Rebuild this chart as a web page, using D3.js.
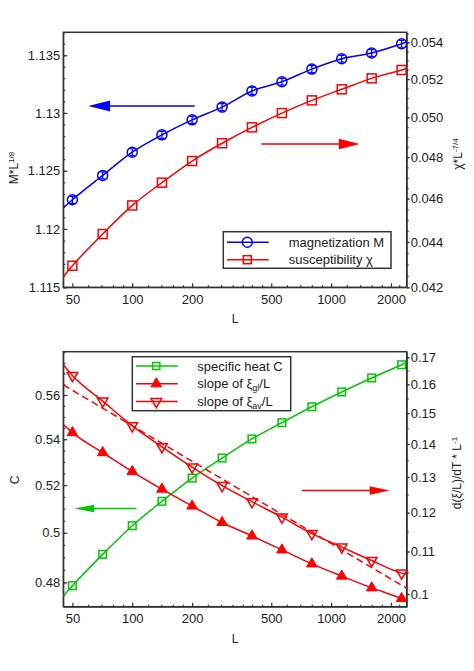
<!DOCTYPE html>
<html>
<head>
<meta charset="utf-8">
<script src="https://cdn.jsdelivr.net/npm/d3@7"></script>
<style>
  body { margin: 0; background: #fff; }
  svg { display: block; font-family: 'Liberation Sans', Arial, sans-serif; }
  .axis text { font-size: 13px; fill: #222; }
  .axis path, .axis line { stroke: #333; }
  .title { font-size: 12px; fill: #222; }
  .legend text { font-size: 13px; fill: #222; }
</style>
</head>
<body>
<script>
// system sizes
const L = [50, 71, 100, 141, 200, 283, 400, 566, 800, 1131, 1600, 2263]
const lEnds = [45, 2400]

// top panel
const magnetization = [1.1225, 1.1246, 1.1266, 1.1281, 1.1294, 1.1305, 1.1319, 1.1327, 1.1338, 1.1347, 1.1352, 1.1360]
const magErr = [0.0003, 0.0003, 0.0003, 0.0003, 0.0003, 0.0003, 0.0003, 0.0003, 0.0003, 0.0003, 0.0003, 0.0003]
const magEnds = [1.1218, 1.13615]
const susceptibility = [0.04294, 0.04436, 0.04568, 0.04676, 0.04781, 0.04869, 0.04949, 0.05022, 0.05088, 0.05146, 0.05204, 0.05249]
const susEnds = [0.04246, 0.05257]

// bottom panel
const specificHeat = [0.4787, 0.4912, 0.5029, 0.5131, 0.5230, 0.5317, 0.5401, 0.5474, 0.5546, 0.5614, 0.5679, 0.5741]
const heatEnds = [0.4747, 0.5752]
const slopeGl = [0.1436, 0.1373, 0.1316, 0.1265, 0.1218, 0.1174, 0.1139, 0.1104, 0.1070, 0.1041, 0.1014, 0.0990]
const glEnds = [0.1462, 0.0985]
const slopeAv = [0.1632, 0.1541, 0.1458, 0.1391, 0.1329, 0.1275, 0.1230, 0.1188, 0.1145, 0.1111, 0.1078, 0.1048]
const avEnds = [0.1672, 0.1045]
const avDashed = [0.1598, 0.1013]

// ticks
const lTicks = [50, 100, 200, 500, 1000, 2000]
const lMinor = [60, 70, 80, 90, 120, 140, 160, 180, 240, 280, 320, 360, 400, 450, 600, 700, 800, 900, 1200, 1400, 1600, 1800, 2200]
const magTicks = [1.115, 1.12, 1.125, 1.13, 1.135]
const susTicks = [0.042, 0.044, 0.046, 0.048, 0.050, 0.052, 0.054]
const heatTicks = [0.48, 0.5, 0.52, 0.54, 0.56]
const slopeTicks = [0.1, 0.11, 0.12, 0.13, 0.14, 0.15, 0.16, 0.17]

// arrows [L from, L to, value]
const magArrow = [206, 60, 1.1306]
const susArrow = [446, 1394, 0.04865]
const heatArrow = [105, 51, 0.5101]
const slopeArrow = [711, 1971, 0.1261]

const BLUE = '#0000ff', RED = '#ff0000', GREEN = '#00c800', INK = '#333'

const width = 474, height = 671
const svg = d3.select('body').append('svg').attr('width', width).attr('height', height)

const x0 = 63.3, x1 = 406.7

function range(a, b, s) {
  const out = []
  for (let v = a; v <= b + s / 2; v += s) out.push(+v.toFixed(5))
  return out
}

function panel(y0, yl, yr) {
  const g = svg.append('g')
  const y1 = y0 + 255
  const x = d3.scaleLog().domain(lEnds).range([x0, x1])
  const ly = d3.scaleLog().domain(yl.domain).range([y1, y0])
  const ry = d3.scaleLog().domain(yr.domain).range([y1, y0])

  const clipId = 'clip' + Math.round(y0)
  g.append('clipPath').attr('id', clipId)
    .append('rect').attr('x', x0).attr('y', y0).attr('width', x1 - x0).attr('height', y1 - y0)

  // minor ticks
  g.append('g').attr('class', 'axis').attr('transform', 'translate(0,' + y1 + ')')
    .call(d3.axisBottom(x).tickValues(lMinor).tickSize(-2).tickFormat(''))
    .select('.domain').remove()
  g.append('g').attr('class', 'axis').attr('transform', 'translate(' + x0 + ',0)')
    .call(d3.axisLeft(ly).tickValues(yl.minor).tickSize(-2).tickFormat(''))
    .select('.domain').remove()
  g.append('g').attr('class', 'axis').attr('transform', 'translate(' + x1 + ',0)')
    .call(d3.axisRight(ry).tickValues(yr.minor).tickSize(2).tickFormat(''))
    .select('.domain').remove()

  // major axes
  g.append('g').attr('class', 'axis').attr('transform', 'translate(0,' + y1 + ')')
    .call(d3.axisBottom(x).tickValues(lTicks).tickSizeInner(-4).tickSizeOuter(0).tickPadding(7).tickFormat(d3.format('d')))
  g.append('g').attr('class', 'axis').attr('transform', 'translate(' + x0 + ',0)')
    .call(d3.axisLeft(ly).tickValues(yl.ticks).tickSizeInner(-4).tickSizeOuter(0).tickPadding(3).tickFormat(yl.format))
  g.append('g').attr('class', 'axis').attr('transform', 'translate(' + x1 + ',0)')
    .call(d3.axisRight(ry).tickValues(yr.ticks).tickSizeInner(3).tickSizeOuter(0).tickPadding(1).tickFormat(yr.format))

  g.selectAll('.axis line').attr('stroke-width', 1.2)

  g.append('rect')
    .attr('x', x0).attr('y', y0).attr('width', x1 - x0).attr('height', y1 - y0)
    .attr('fill', 'none').attr('stroke', INK).attr('stroke-width', 1.5)

  g.append('text').attr('class', 'title')
    .attr('x', 235).attr('y', y1 + 36).attr('text-anchor', 'middle').text('L')

  return { g, x, ly, ry, clipId }
}

function curve(p, yScale, vals, ends, color) {
  const pts = [[lEnds[0], ends[0]]].concat(L.map((l, i) => [l, vals[i]]), [[lEnds[1], ends[1]]])
  p.g.append('path')
    .datum(pts)
    .attr('clip-path', 'url(#' + p.clipId + ')')
    .attr('fill', 'none').attr('stroke', color).attr('stroke-width', 1.5)
    .attr('d', d3.line().x(d => p.x(d[0])).y(d => yScale(d[1])).curve(d3.curveMonotoneX))
}

function straight(p, yScale, ends, color) {
  p.g.append('path')
    .datum([[lEnds[0], ends[0]], [lEnds[1], ends[1]]])
    .attr('clip-path', 'url(#' + p.clipId + ')')
    .attr('fill', 'none').attr('stroke', color).attr('stroke-width', 1.5)
    .attr('stroke-dasharray', '7,4')
    .attr('d', d3.line().x(d => p.x(d[0])).y(d => yScale(d[1])))
}

function marker(sel, type, color, size) {
  // triangle area for a side of about 2*size
  const tri = d3.symbol(d3.symbolTriangle, size * size * 1.6)()
  if (type === 'circle') {
    sel.append('circle').attr('r', size).attr('fill', 'none').attr('stroke', color).attr('stroke-width', 1.5)
  } else if (type === 'square') {
    sel.append('rect').attr('x', -size).attr('y', -size).attr('width', 2 * size).attr('height', 2 * size)
      .attr('fill', 'none').attr('stroke', color).attr('stroke-width', 1.5)
  } else if (type === 'up') {
    sel.append('path').attr('d', tri)
      .attr('fill', color).attr('stroke', color).attr('stroke-width', 1)
  } else {
    sel.append('path').attr('d', tri)
      .attr('transform', 'rotate(180)')
      .attr('fill', 'none').attr('stroke', color).attr('stroke-width', 1.5)
  }
}

function points(p, yScale, vals, type, color, size) {
  p.g.append('g').attr('clip-path', 'url(#' + p.clipId + ')')
    .selectAll('g').data(vals).enter().append('g')
      .attr('transform', (d, i) => 'translate(' + p.x(L[i]) + ',' + yScale(d) + ')')
      .each(function() { marker(d3.select(this), type, color, size) })
}

function arrow(p, yScale, a, color, len, half) {
  const xa = p.x(a[0]), xb = p.x(a[1]), y = yScale(a[2])
  const dir = xb > xa ? 1 : -1
  p.g.append('line').attr('x1', xa).attr('x2', xb - dir * len * 0.5).attr('y1', y).attr('y2', y)
    .attr('stroke', color).attr('stroke-width', 1.5)
  p.g.append('path')
    .attr('d', 'M' + xb + ',' + y + 'L' + (xb - dir * len) + ',' + (y - half) + 'L' + (xb - dir * len) + ',' + (y + half) + 'Z')
    .attr('fill', color)
}

function vtitle(p, cx, cy, parts) {
  const t = p.g.append('text').attr('class', 'title')
    .attr('transform', 'translate(' + cx + ',' + cy + ') rotate(-90)')
    .attr('text-anchor', 'middle')
  parts.forEach(q => {
    const s = t.append('tspan').text(q[0])
    if (q[1] === 'sup') s.attr('font-size', 8).attr('baseline-shift', '45%')
  })
}

// ---- top panel
const topPanel = panel(32.3,
  { domain: [1.115, 1.137], ticks: magTicks, minor: range(1.115, 1.137, 0.001), format: d3.format('') },
  { domain: [0.042, 0.05456], ticks: susTicks, minor: range(0.042, 0.0545, 0.0005), format: d3.format('.3f') })

curve(topPanel, topPanel.ly, magnetization, magEnds, BLUE)
curve(topPanel, topPanel.ry, susceptibility, susEnds, RED)

// error bars on magnetization
topPanel.g.append('g').selectAll('path').data(magnetization).enter().append('path')
  .attr('d', (d, i) => {
    const xx = topPanel.x(L[i]), ya = topPanel.ly(d - magErr[i]), yb = topPanel.ly(d + magErr[i])
    return 'M' + xx + ',' + ya + 'V' + yb + 'M' + (xx - 2.5) + ',' + ya + 'h5M' + (xx - 2.5) + ',' + yb + 'h5'
  })
  .attr('stroke', BLUE).attr('stroke-width', 1.2).attr('fill', 'none')

points(topPanel, topPanel.ly, magnetization, 'circle', BLUE, 5)
points(topPanel, topPanel.ry, susceptibility, 'square', RED, 4.5)

arrow(topPanel, topPanel.ly, magArrow, BLUE, 22, 5.5)
arrow(topPanel, topPanel.ry, susArrow, RED, 21, 5.3)

vtitle(topPanel, 18, 168, [['M*L'], ['1/8', 'sup']])
vtitle(topPanel, 462, 154, [['χ*L'], ['-7/4', 'sup']])

// legend top
const lg1 = topPanel.g.append('g').attr('class', 'legend')
lg1.append('rect').attr('x', 223.3).attr('y', 231.7).attr('width', 167.7).attr('height', 36.6)
  .attr('fill', '#fff').attr('stroke', INK).attr('stroke-width', 1.5)
const leg1 = [['magnetization M', BLUE, 'circle', 5], ['susceptibility χ', RED, 'square', 4]]
leg1.forEach((d, i) => {
  const yy = 242.3 + i * 17.4
  lg1.append('line').attr('x1', 227).attr('x2', 268.7).attr('y1', yy).attr('y2', yy)
    .attr('stroke', d[1]).attr('stroke-width', 1.5)
  marker(lg1.append('g').attr('transform', 'translate(247.3,' + yy + ')'), d[2], d[1], d[3])
  lg1.append('text').attr('x', 288.7).attr('y', yy + 4.5).text(d[0])
})

// ---- bottom panel
const botPanel = panel(351.7,
  { domain: [0.4705, 0.5803], ticks: heatTicks, minor: range(0.475, 0.58, 0.005), format: d3.format('') },
  { domain: [0.0972, 0.17215], ticks: slopeTicks, minor: range(0.1, 0.17, 0.005), format: d3.format('') })

curve(botPanel, botPanel.ly, specificHeat, heatEnds, GREEN)
curve(botPanel, botPanel.ry, slopeGl, glEnds, RED)
curve(botPanel, botPanel.ry, slopeAv, avEnds, RED)
straight(botPanel, botPanel.ry, avDashed, RED)

points(botPanel, botPanel.ly, specificHeat, 'square', GREEN, 3.8)
points(botPanel, botPanel.ry, slopeGl, 'up', RED, 5.5)
points(botPanel, botPanel.ry, slopeAv, 'down', RED, 5.5)

arrow(botPanel, botPanel.ly, heatArrow, GREEN, 20, 3.8)
arrow(botPanel, botPanel.ry, slopeArrow, RED, 20, 4.2)

vtitle(botPanel, 19, 480, [['C']])
vtitle(botPanel, 461, 473, [['d(ξ/L)/dT * L'], ['-1', 'sup']])

// legend bottom
const lg2 = botPanel.g.append('g').attr('class', 'legend')
lg2.append('rect').attr('x', 132.3).attr('y', 356.7).attr('width', 158.4).attr('height', 54)
  .attr('fill', '#fff').attr('stroke', INK).attr('stroke-width', 1.5)
const leg2 = [
  [['specific heat C'], GREEN, 'square', 3.5],
  [['slope of ξ', ['gl'], '/L'], RED, 'up', 5.5],
  [['slope of ξ', ['av'], '/L'], RED, 'down', 5.5]
]
leg2.forEach((d, i) => {
  const yy = 366 + i * 17.8
  lg2.append('line').attr('x1', 136).attr('x2', 177.7).attr('y1', yy).attr('y2', yy)
    .attr('stroke', d[1]).attr('stroke-width', 1.5)
  marker(lg2.append('g').attr('transform', 'translate(156.3,' + yy + ')'), d[2], d[1], d[3])
  const t = lg2.append('text').attr('x', 197.3).attr('y', yy + 4.5)
  d[0].forEach(part => {
    if (Array.isArray(part)) t.append('tspan').attr('font-size', 9).attr('baseline-shift', '-30%').text(part[0])
    else t.append('tspan').text(part)
  })
})
</script>
</body>
</html>
